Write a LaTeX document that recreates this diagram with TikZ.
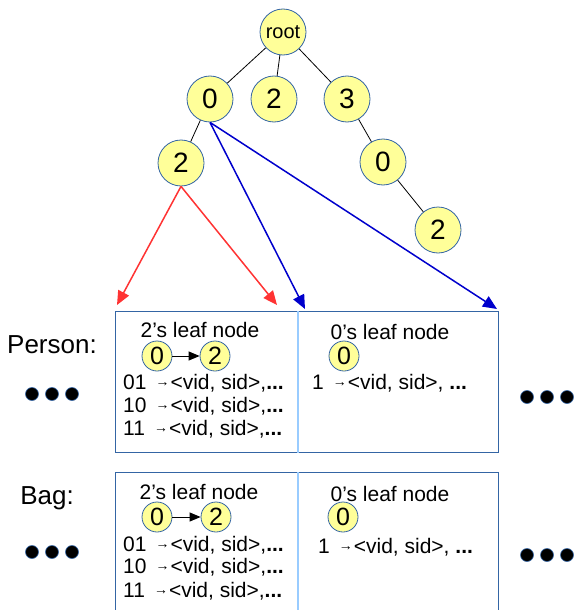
\documentclass[tikz,border=0pt]{standalone}
\usepackage{fontspec}
\setmainfont{Liberation Sans}
\usetikzlibrary{arrows.meta}
\definecolor{nodefill}{HTML}{FFFF99}
\definecolor{nodeline}{HTML}{3465A4}
\definecolor{divline}{HTML}{99CCFF}
\definecolor{redarr}{HTML}{FF3333}
\definecolor{bluearr}{HTML}{0000CC}
\newcommand{\fsz}[1]{\fontsize{#1}{#1}\selectfont}
\newcommand{\smallarr}{\raisebox{2.5pt}{\fsz{14}→}}
\newcommand{\leafline}[1]{#1\hspace{9pt}\smallarr\hspace{1pt}<vid, sid>,\textbf{...}}
\begin{document}
\begin{tikzpicture}[x=1pt,y=-1pt,
  tnode/.style={circle,draw=nodeline,line width=0.8pt,fill=nodefill,minimum size=46pt,inner sep=0pt,font=\fsz{28}},
  lnode/.style={circle,draw=nodeline,line width=0.8pt,fill=nodefill,minimum size=30pt,inner sep=0pt,font=\fsz{25}},
  tedge/.style={draw=black,line width=0.8pt},
  redline/.style={draw=redarr,line width=1.5pt,-{Triangle[length=14pt,width=12pt]}},
  blueline/.style={draw=bluearr,line width=1.5pt,-{Triangle[length=14pt,width=12pt]}},
  leafarrow/.style={draw=black,line width=1pt,-{Triangle[length=11pt,width=9pt]}},
  box/.style={draw=nodeline,line width=1pt,minimum width=383pt,minimum height=141pt,inner sep=0pt,anchor=north west},
  divider/.style={draw=divline,line width=1.2pt},
  title/.style={font=\fsz{21},inner sep=0pt},
  entry/.style={font=\fsz{21},inner sep=0pt,anchor=west},
  label/.style={font=\fsz{26},inner sep=0pt},
  blob/.style={circle,fill=black,draw=nodeline,line width=0.6pt,minimum size=13pt,inner sep=0pt}
]
\useasboundingbox (0,0) rectangle (573,610);

% tree
\node[tnode,font=\fsz{20}] (root) at (283,32) {root};
\node[tnode] (n0) at (210,99) {0};
\node[tnode] (n2) at (274,99) {2};
\node[tnode] (n3) at (347,99) {3};
\node[tnode] (n02) at (181,163) {2};
\node[tnode] (n30) at (383,162) {0};
\node[tnode] (n302) at (438,230) {2};
\draw[tedge] (root) -- (n0);
\draw[tedge] (root) -- (n2);
\draw[tedge] (root) -- (n3);
\draw[tedge] (n0) -- (n02);
\draw[tedge] (n3) -- (n30);
\draw[tedge] (n30) -- (n302);

% boxes
\node[box] (pbox) at (115,311) {};
\node[box] (bbox) at (115,472) {};
\draw[divider] ([xshift=183pt]pbox.north west) -- ([xshift=183pt]pbox.south west);
\draw[divider] ([xshift=183pt]bbox.north west) -- ([xshift=183pt]bbox.south west);

% arrows
\coordinate (r1) at (117,305);
\coordinate (r2) at (277,305);
\coordinate (b1) at (305,309);
\coordinate (b2) at (497,309);
\draw[redline] (n02.south) -- (r1);
\draw[redline] (n02.south) -- (r2);
\draw[blueline] (n0.south) -- (b1);
\draw[blueline] (n0.south) -- (b2);

% Person contents
\node[label] (plab) at (52,345) {Person:};
\node[title] (pt2) at (200,330) {2’s leaf node};
\node[lnode] (pa0) at (157,356) {0};
\node[lnode] (pa2) at (215,356) {2};
\draw[leafarrow] (pa0) -- (pa2);
\node[entry] (pe1) at (123,383) {\leafline{01}};
\node[entry] (pe2) at (123,406) {\leafline{10}};
\node[entry] (pe3) at (123,429) {\leafline{11}};
\node[title] (pt0) at (390,332) {0’s leaf node};
\node[lnode] (pb0) at (344,356) {0};
\node[entry] (pf1) at (312,383) {1\hspace{9pt}\smallarr\hspace{1pt}<vid, sid>, \textbf{...}};

% Bag contents
\node[label] (blab) at (47,498) {Bag:};
\node[title] (bt2) at (199,492) {2’s leaf node};
\node[lnode] (ba0) at (157,517) {0};
\node[lnode] (ba2) at (216,517) {2};
\draw[leafarrow] (ba0) -- (ba2);
\node[entry] (be1) at (123,545) {\leafline{01}};
\node[entry] (be2) at (123,567) {\leafline{10}};
\node[entry] (be3) at (123,591) {\leafline{11}};
\node[title] (bt0) at (390,494) {0’s leaf node};
\node[lnode] (bb0) at (343,517) {0};
\node[entry] (bf1) at (318,547) {1\hspace{9pt}\smallarr\hspace{1pt}<vid, sid>, \textbf{...}};

% dots
\node[blob] (d1) at (32,394) {};
\node[blob] (d2) at (52,394) {};
\node[blob] (d3) at (72,394) {};
\node[blob] (d4) at (527,397) {};
\node[blob] (d5) at (547,397) {};
\node[blob] (d6) at (567,397) {};
\node[blob] (d7) at (32,552) {};
\node[blob] (d8) at (52,552) {};
\node[blob] (d9) at (72,552) {};
\node[blob] (d10) at (527,555) {};
\node[blob] (d11) at (547,555) {};
\node[blob] (d12) at (567,555) {};
\end{tikzpicture}
\end{document}
